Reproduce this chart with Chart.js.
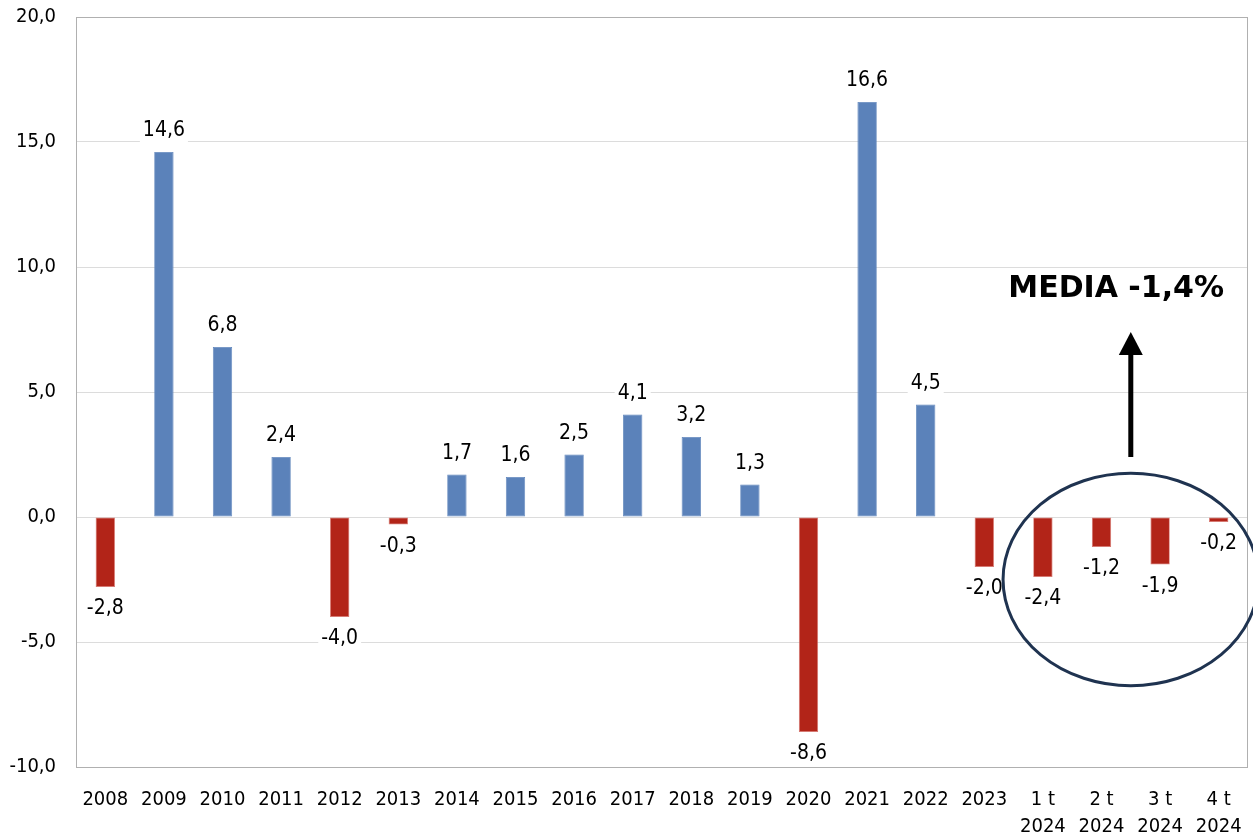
<!DOCTYPE html>
<html>
<head>
<meta charset="utf-8">
<script src="https://cdn.jsdelivr.net/npm/chart.js@4/dist/chart.umd.min.js"></script>
<style>
  html, body { margin: 0; padding: 0; background: #fff; }
  #wrap { width: 1253px; height: 837px; }
</style>
</head>
<body>
<div id="wrap"><canvas id="chart"></canvas></div>
<script>
// dati
const categorie = ['2008', '2009', '2010', '2011', '2012', '2013', '2014', '2015', '2016', '2017',
  '2018', '2019', '2020', '2021', '2022', '2023', ['1 t', '2024'], ['2 t', '2024'], ['3 t', '2024'], ['4 t', '2024']];
const valori = [-2.8, 14.6, 6.8, 2.4, -4.0, -0.3, 1.7, 1.6, 2.5, 4.1,
  3.2, 1.3, -8.6, 16.6, 4.5, -2.0, -2.4, -1.2, -1.9, -0.2];
const yTicks = [-10, -5, 0, 5, 10, 15, 20];
const mediaTesto = 'MEDIA -1,4%';

const BLU = '#5b82ba';
const ROSSO = '#b22418';
const fmt = v => v.toFixed(1).replace('.', ',');
const FONT = "'DejaVu Sans Condensed', 'DejaVu Sans', sans-serif";

// etichette sopra/sotto le barre
const etichette = {
  id: 'etichette',
  afterDatasetsDraw(chart) {
    const ctx = chart.ctx;
    const meta = chart.getDatasetMeta(0);
    ctx.save();
    ctx.font = '21px ' + FONT;
    ctx.textAlign = 'center';
    ctx.textBaseline = 'middle';
    meta.data.forEach((bar, i) => {
      const v = valori[i];
      const txt = fmt(v);
      const y = v >= 0 ? bar.y - 21 : bar.y + 22;
      const w = ctx.measureText(txt).width + 6;
      ctx.fillStyle = '#fff';
      ctx.fillRect(bar.x - w / 2, y - 12, w, 24);
      ctx.fillStyle = '#000';
      ctx.fillText(txt, bar.x, y);
    });
    ctx.restore();
  }
};

// cornice e annotazione media
const cornice = {
  id: 'cornice',
  beforeDatasetsDraw(chart) {
    const { ctx, chartArea: a } = chart;
    ctx.save();
    ctx.strokeStyle = '#b0b0b0';
    ctx.lineWidth = 1;
    ctx.strokeRect(a.left + 0.5, a.top + 0.5, a.right - a.left - 1, a.bottom - a.top);
    ctx.restore();
  },
  afterDraw(chart) {
    const { ctx, scales: { x, y } } = chart;
    const cx = x.getPixelForValue(17.5);
    const cy = y.getPixelForValue(-2.5);
    const rx = (x.getPixelForValue(1) - x.getPixelForValue(0)) * 2.18;
    const ry = y.getPixelForValue(-6.75) - cy;
    ctx.save();
    ctx.strokeStyle = '#1f3350';
    ctx.lineWidth = 3;
    ctx.beginPath();
    ctx.ellipse(cx, cy, rx, ry, 0, 0, Math.PI * 2);
    ctx.stroke();

    // freccia
    const yBase = y.getPixelForValue(2.4);
    const yTip = y.getPixelForValue(7.4);
    ctx.strokeStyle = '#000';
    ctx.fillStyle = '#000';
    ctx.lineWidth = 5;
    ctx.beginPath();
    ctx.moveTo(cx, yBase);
    ctx.lineTo(cx, yTip + 20);
    ctx.stroke();
    ctx.beginPath();
    ctx.moveTo(cx, yTip);
    ctx.lineTo(cx - 12, yTip + 23);
    ctx.lineTo(cx + 12, yTip + 23);
    ctx.closePath();
    ctx.fill();

    ctx.font = "bold 30px 'DejaVu Sans', sans-serif";
    ctx.textAlign = 'center';
    ctx.textBaseline = 'middle';
    ctx.fillText(mediaTesto, x.getPixelForValue(17.25), y.getPixelForValue(9.1));
    ctx.restore();
  }
};

new Chart(document.getElementById('chart'), {
  type: 'bar',
  data: {
    labels: categorie,
    datasets: [{
      data: valori,
      backgroundColor: valori.map(v => v >= 0 ? BLU : ROSSO),
      borderColor: valori.map(v => v >= 0 ? BLU : '#d9776f'),
      borderWidth: 0.8,
      borderSkipped: false,
      barPercentage: 0.33,
      categoryPercentage: 1
    }]
  },
  options: {
    responsive: true,
    maintainAspectRatio: false,
    animation: false,
    layout: { padding: { top: 17, right: 5, left: 0, bottom: 0 } },
    plugins: { legend: { display: false }, tooltip: { enabled: false } },
    scales: {
      x: {
        afterFit(s) { s.height = 70; s.paddingLeft = 0; s.paddingRight = 0; },
        grid: { display: false, drawTicks: false },
        border: { display: false },
        ticks: { color: '#000', font: { family: FONT, size: 20, lineHeight: 1.35 }, padding: 19, maxRotation: 0, autoSkip: false }
      },
      y: {
        min: -10, max: 20,
        afterFit(s) { s.width = 76; s.paddingTop = 0; s.paddingBottom = 0; },
        afterBuildTicks(s) { s.ticks = yTicks.map(v => ({ value: v })); },
        grid: { color: '#dcdcdc', drawTicks: false },
        border: { display: false },
        ticks: { color: '#000', font: { family: FONT, size: 20 }, padding: 20, callback: v => fmt(v) }
      }
    }
  },
  plugins: [etichette, cornice]
});
</script>
</body>
</html>
